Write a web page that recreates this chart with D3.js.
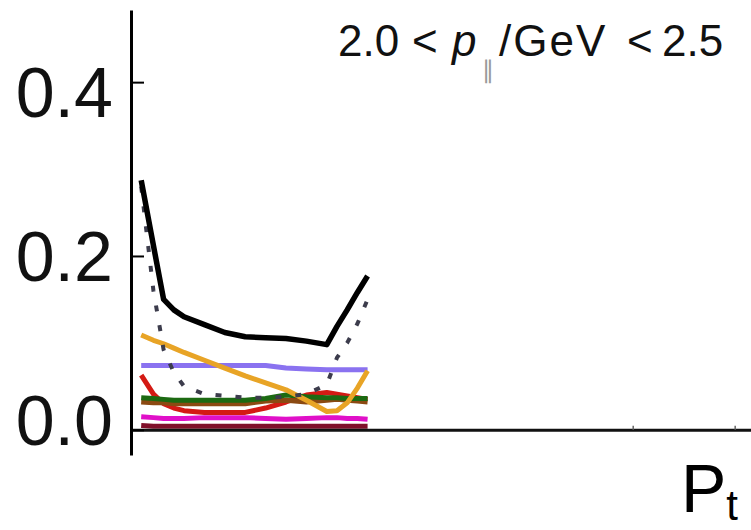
<!DOCTYPE html>
<html>
<head>
<meta charset="utf-8">
<script src="https://cdn.jsdelivr.net/npm/d3@7"></script>
<style>
  body { margin: 0; background: #fff; }
  svg { display: block; font-family: "Liberation Sans", Arial, sans-serif; }
</style>
</head>
<body>
<svg id="chart" width="751" height="530"></svg>
<script>
// Pt grid shared by every curve
const ptGrid = [0.18, 0.3, 0.4, 0.5, 0.6, 0.8, 1.0, 1.2, 1.4, 1.6, 1.8, 2.0, 2.1, 2.2, 2.3, 2.4];

const totalVals   = [0.287, 0.212, 0.150, 0.138, 0.130, 0.121, 0.112, 0.107, 0.106, 0.105, 0.102, 0.098, 0.119, 0.138, 0.158, 0.177];
const dashedVals  = [0.280, 0.160, 0.092, 0.066, 0.050, 0.041, 0.039, 0.037, 0.037, 0.038, 0.041, 0.052, 0.083, 0.100, 0.122, 0.150];
const orangeVals  = [0.109, 0.103, 0.099, 0.094, 0.089, 0.080, 0.071, 0.062, 0.054, 0.046, 0.034, 0.021, 0.022, 0.031, 0.048, 0.068];
const purpleVals  = [0.074, 0.074, 0.074, 0.074, 0.074, 0.074, 0.074, 0.074, 0.074, 0.071, 0.070, 0.069, 0.069, 0.069, 0.069, 0.069];
const greenVals   = [0.037, 0.036, 0.035, 0.034, 0.034, 0.034, 0.034, 0.034, 0.036, 0.040, 0.038, 0.037, 0.037, 0.036, 0.036, 0.036];
const brownVals   = [0.032, 0.031, 0.031, 0.030, 0.030, 0.030, 0.030, 0.030, 0.033, 0.034, 0.032, 0.034, 0.035, 0.034, 0.033, 0.032];
const redVals     = [0.063, 0.041, 0.030, 0.025, 0.022, 0.020, 0.020, 0.020, 0.025, 0.032, 0.040, 0.043, 0.041, 0.039, 0.037, 0.035];
const magentaVals = [0.015, 0.014, 0.013, 0.013, 0.013, 0.014, 0.014, 0.014, 0.013, 0.012, 0.013, 0.014, 0.014, 0.013, 0.013, 0.012];
const maroonVals  = [0.005, 0.004, 0.004, 0.004, 0.004, 0.004, 0.004, 0.004, 0.004, 0.004, 0.004, 0.004, 0.004, 0.004, 0.004, 0.004];

const yTicks = [0.0, 0.2, 0.4];
const xTicks = [5, 6];

// drawing order: bottom first
const series = [
  { vals: maroonVals,  color: '#80102a', width: 5 },
  { vals: magentaVals, color: '#e010c8', width: 5 },
  { vals: redVals,     color: '#d41a14', width: 5 },
  { vals: brownVals,   color: '#8b4a12', width: 5 },
  { vals: greenVals,   color: '#1c6a12', width: 5 },
  { vals: purpleVals,  color: '#8a72f0', width: 5 },
  { vals: orangeVals,  color: '#e8a426', width: 5 },
  { vals: dashedVals,  color: '#3c3c4c', width: 4, dash: '6,14' },
  { vals: totalVals,   color: '#000000', width: 5.5 }
];

const svg = d3.select('#chart');

const x = d3.scaleLinear().domain([0.08, 6.16]).range([131, 751]);
const y = d3.scaleLinear().domain([-0.029, 0.483]).range([455, 10]);

const line = d3.line()
  .x((d, i) => x(ptGrid[i]))
  .y(d => y(d));

svg.append('g')
  .selectAll('path')
  .data(series)
  .enter()
  .append('path')
    .attr('d', d => line(d.vals))
    .attr('fill', 'none')
    .attr('stroke', d => d.color)
    .attr('stroke-width', d => d.width)
    .attr('stroke-dasharray', d => d.dash || null)
    .attr('stroke-linejoin', 'round');

// x axis on y = 0
const xAxis = svg.append('g')
  .attr('transform', `translate(0,${y(0)})`)
  .call(d3.axisTop(x).tickValues(xTicks).tickSize(4).tickSizeOuter(0).tickFormat(''));
xAxis.select('.domain').attr('stroke', '#111').attr('stroke-width', 3);
xAxis.selectAll('.tick line').attr('stroke', '#666').attr('stroke-width', 1.5);

// y axis
const yAxis = svg.append('g')
  .attr('transform', 'translate(131,0)')
  .call(d3.axisRight(y).tickValues(yTicks).tickSize(13).tickSizeOuter(0).tickFormat(''));
yAxis.select('.domain').attr('stroke', '#000').attr('stroke-width', 3);
yAxis.selectAll('.tick line').attr('stroke', '#000').attr('stroke-width', 2);

svg.append('g')
  .selectAll('text')
  .data(yTicks)
  .enter()
  .append('text')
    .attr('x', 113)
    .attr('y', d => 0.9425 * y(d) + 39.7)
    .attr('text-anchor', 'end')
    .attr('font-size', 70)
    .attr('fill', '#111')
    .text(d => d.toFixed(1));

// panel title, pieces placed like the original
const title = svg.append('text')
  .attr('y', 56)
  .attr('font-size', 44)
  .attr('fill', '#111');
title.append('tspan').attr('x', 338).text('2.0');
title.append('tspan').attr('x', 412).text('<');
title.append('tspan').attr('x', 452).attr('font-style', 'italic').text('p');
title.append('tspan').attr('x', 482).attr('font-size', 24).attr('fill', '#999').attr('dy', 22).text('∥');
title.append('tspan').attr('x', 499).attr('dy', -22).attr('letter-spacing', 2).text('/GeV');
title.append('tspan').attr('x', 627).text('<');
title.append('tspan').attr('x', 662).text('2.5');

// axis label
const xLabel = svg.append('text')
  .attr('x', 681)
  .attr('y', 512)
  .attr('font-size', 68)
  .attr('fill', '#000');
xLabel.append('tspan').text('P');
xLabel.append('tspan').attr('font-size', 42).attr('dy', 8).text('t');
</script>
</body>
</html>
